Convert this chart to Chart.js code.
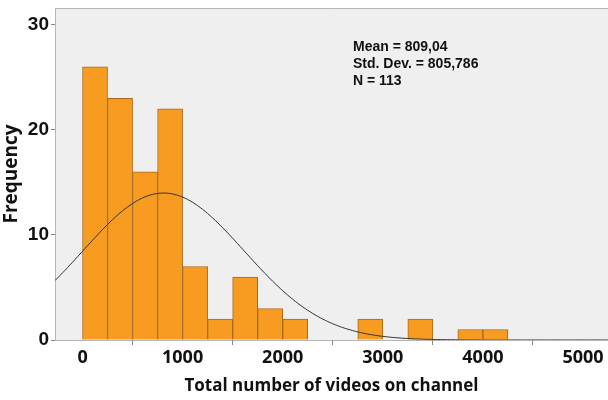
<!DOCTYPE html>
<html>
<head>
<meta charset="utf-8">
<script src="https://cdn.jsdelivr.net/npm/chart.js@4"></script>
<style>
  html, body { margin: 0; padding: 0; background: #fff; }
  #wrap { width: 608px; height: 400px; }
</style>
</head>
<body>
<div id="wrap"><canvas id="histChart" width="608" height="400"></canvas></div>
<script>
// histogram bins (width 250, starting at 0) and their counts
const binStarts = [0, 250, 500, 750, 1000, 1250, 1500, 1750, 2000, 2250, 2500, 2750, 3000, 3250, 3500, 3750, 4000]
const counts    = [26, 23, 16, 22, 7, 2, 6, 3, 2, 0, 0, 2, 0, 2, 0, 1, 1]
const binWidth = 250

// summary stats shown in the box
const mean = 809.04
const stdDev = 805.786
const n = 113
const statLines = ["Mean = 809,04", "Std. Dev. = 805,786", "N = 113"]

const xTicks = [0, 1000, 2000, 3000, 4000, 5000]
const yTicks = [0, 10, 20, 30]

const xMin = -275, xMax = 5250
const yMax = 31.6

// bars sit at bin centres so the linear scale spaces them 250 apart
const barData = binStarts.map((s, i) => ({ x: s + binWidth / 2, y: counts[i] }))

// normal curve scaled to the histogram counts
const normalCurve = []
for (let x = xMin; x <= xMax; x += 25) {
    const z = (x - mean) / stdDev
    const y = n * binWidth / (stdDev * Math.sqrt(2 * Math.PI)) * Math.exp(-0.5 * z * z)
    normalCurve.push({ x: x, y: y })
}

const plotFrame = {
    id: "plotFrame",
    beforeDraw(chart) {
        const { ctx, chartArea: a } = chart
        ctx.save()
        ctx.fillStyle = "#efefef"
        ctx.fillRect(a.left, a.top, a.right - a.left + 4, a.bottom - a.top)
        ctx.strokeStyle = "#b5b5b5"
        ctx.lineWidth = 1
        ctx.beginPath()
        ctx.moveTo(a.right + 4, a.top + 0.5)
        ctx.lineTo(a.left + 0.5, a.top + 0.5)
        ctx.lineTo(a.left + 0.5, a.bottom + 0.5)
        ctx.lineTo(a.right + 4, a.bottom + 0.5)
        ctx.stroke()
        ctx.restore()
    },
    afterDraw(chart) {
        const ctx = chart.ctx
        ctx.save()
        ctx.fillStyle = "#111"
        ctx.font = "bold 14px 'Liberation Sans', Arial, sans-serif"
        ctx.textBaseline = "middle"
        statLines.forEach((t, i) => ctx.fillText(t, 353, 47 + i * 17))
        ctx.restore()
    }
}

new Chart("histChart", {
    data: {
        datasets: [
            {
                type: "line",
                data: normalCurve,
                borderColor: "#333",
                borderWidth: 1,
                pointRadius: 0,
                tension: 0.3,
                order: 0
            },
            {
                type: "bar",
                data: barData,
                backgroundColor: "#f79c20",
                borderColor: "#a8691c",
                borderWidth: 1,
                barPercentage: 1,
                categoryPercentage: 1,
                order: 1
            }
        ]
    },
    options: {
        responsive: false,
        animation: false,
        layout: { padding: { top: 8, right: 0, left: 0, bottom: 0 } },
        plugins: { legend: { display: false }, tooltip: { enabled: false } },
        scales: {
            x: {
                type: "linear",
                offset: false,
                min: xMin,
                max: xMax,
                afterBuildTicks: s => { s.ticks = xTicks.map(v => ({ value: v })) },
                afterFit: s => { s.height = 60; s.paddingRight = 0 },
                grid: { drawOnChartArea: false, drawTicks: true, tickLength: 5, color: "#888" },
                border: { display: false },
                ticks: {
                    color: "#111",
                    padding: 2,
                    maxRotation: 0,
                    callback: v => String(v),
                    font: { family: "'Open Sans', sans-serif", size: 18, weight: "bold" }
                },
                title: {
                    display: true,
                    text: "Total number of videos on channel",
                    color: "#111",
                    padding: { top: 4, bottom: 4 },
                    font: { family: "'Open Sans', sans-serif", size: 17, weight: "bold" }
                }
            },
            y: {
                min: 0,
                max: yMax,
                afterBuildTicks: s => { s.ticks = yTicks.map(v => ({ value: v })) },
                afterFit: s => { s.width = 55; s.paddingTop = 0; s.paddingBottom = 0 },
                grid: { drawOnChartArea: false, drawTicks: true, tickLength: 4, color: "#888" },
                border: { display: false },
                ticks: {
                    color: "#111",
                    padding: 2,
                    font: { family: "'Liberation Sans', Arial, sans-serif", size: 19, weight: "bold" }
                },
                title: {
                    display: true,
                    text: "Frequency",
                    color: "#111",
                    padding: { top: 0, bottom: 2 },
                    font: { family: "'Open Sans', sans-serif", size: 19, weight: "bold" }
                }
            }
        }
    },
    plugins: [plotFrame]
})
</script>
</body>
</html>
